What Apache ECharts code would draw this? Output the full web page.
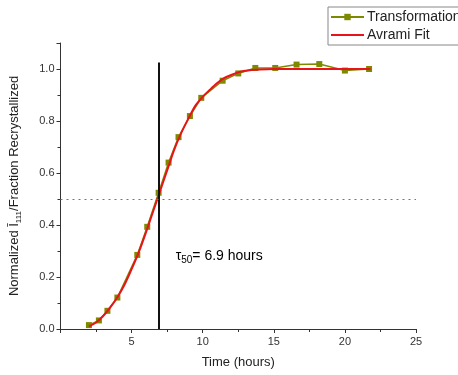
<!DOCTYPE html>
<html>
<head>
<meta charset="utf-8">
<script src="https://cdn.jsdelivr.net/npm/echarts@6/dist/echarts.min.js"></script>
<style>
  html, body { margin: 0; padding: 0; background: #fff; }
  #chart { width: 458px; height: 375px; }
</style>
</head>
<body>
<div id="chart"></div>
<script>
// Measured transformation (time in hours, fraction recrystallized)
const timeHours = [2.0, 2.7, 3.3, 4.0, 5.4, 6.1, 6.9, 7.6, 8.3, 9.1, 9.9, 11.4, 12.5, 13.7, 15.1, 16.6, 18.2, 20.0, 21.7];
const fraction  = [0.015, 0.033, 0.070, 0.121, 0.285, 0.393, 0.524, 0.640, 0.738, 0.819, 0.889, 0.955, 0.983, 1.004, 1.004, 1.017, 1.019, 0.994, 1.0];

// Avrami fit curve, sampled
const fitTime = [2.0, 2.5, 3.0, 3.5, 4.0, 4.5, 5.0, 5.5, 6.0, 6.5, 7.0, 7.5, 8.0, 8.5, 9.0, 9.5, 10.0, 10.5, 11.0, 11.5, 12.0, 12.5, 13.0, 14.0, 15.0, 17.0, 20.0, 21.8];
const fitFrac = [0.010, 0.025, 0.050, 0.083, 0.122, 0.170, 0.230, 0.295, 0.370, 0.450, 0.530, 0.610, 0.690, 0.755, 0.810, 0.860, 0.893, 0.920, 0.945, 0.965, 0.977, 0.987, 0.993, 0.998, 1.0, 1.0, 1.0, 1.0];

const tau50 = 6.9;       // hours
const halfLevel = 0.5;

const xTicks = { min: 0, max: 25, interval: 5 };
const yTicks = { min: 0, max: 1.1, interval: 0.2 };

const FONT = 'Liberation Sans, Arial, sans-serif';
const axisColor = '#333';

const chart = echarts.init(document.getElementById('chart'), null, { renderer: 'canvas' });

chart.setOption({
  animation: false,
  backgroundColor: '#fff',
  textStyle: { fontFamily: FONT },
  grid: { left: 58, right: 42, top: 43, bottom: 46 },
  legend: {
    orient: 'vertical',
    left: 328,
    top: 7,
    itemWidth: 33,
    itemHeight: 8,
    itemGap: 4,
    padding: [3, 4, 3, 2],
    borderColor: '#888',
    borderWidth: 1,
    textStyle: { fontFamily: FONT, fontSize: 14, color: '#222', padding: [0, 0, 0, -2] },
    data: [
      { name: 'Transformation' },
      { name: 'Avrami Fit', itemStyle: { opacity: 0 } }
    ]
  },
  xAxis: {
    type: 'value',
    min: xTicks.min, max: xTicks.max, interval: xTicks.interval,
    name: 'Time (hours)',
    nameLocation: 'middle',
    nameGap: 27,
    nameTextStyle: { fontFamily: FONT, fontSize: 13, color: '#222' },
    axisLine: { lineStyle: { color: axisColor, width: 1 } },
    axisTick: { length: 4, lineStyle: { color: axisColor } },
    minorTick: { show: true, splitNumber: 2, length: 3, lineStyle: { color: axisColor } },
    axisLabel: { showMinLabel: false, fontFamily: FONT, fontSize: 11, color: '#333', margin: 7 },
    splitLine: { show: false }
  },
  yAxis: {
    type: 'value',
    min: yTicks.min, max: yTicks.max, interval: yTicks.interval,
    name: '{n|Normalized }{i|Ī}{s|111}{n|/Fraction Recrystallized}',
    nameLocation: 'middle',
    nameGap: 38,
    nameTextStyle: {
      fontFamily: FONT, fontSize: 13, color: '#222',
      rich: {
        n: { fontFamily: FONT, fontSize: 13, color: '#222' },
        i: { fontFamily: FONT, fontSize: 13, color: '#222' },
        s: { fontFamily: FONT, fontSize: 8, color: '#222', padding: [8, 0, 0, 0] }
      }
    },
    axisLine: { show: true, lineStyle: { color: axisColor, width: 1 } },
    axisTick: { show: true, length: 4, lineStyle: { color: axisColor } },
    minorTick: { show: true, splitNumber: 2, length: 3, lineStyle: { color: axisColor } },
    axisLabel: {
      fontFamily: FONT, fontSize: 11, color: '#333', margin: 6,
      showMaxLabel: false,
      formatter: v => v.toFixed(1)
    },
    splitLine: { show: false }
  },
  series: [
    {
      name: 'Transformation',
      type: 'line',
      data: timeHours.map((t, i) => [t, fraction[i]]),
      symbol: 'rect',
      symbolSize: 6,
      lineStyle: { color: '#7d8a00', width: 1.5 },
      itemStyle: { color: '#7d8a00' },
      z: 2,
      markLine: {
        silent: true,
        symbol: 'none',
        label: { show: false },
        data: [
          [
            { coord: [tau50, 0], lineStyle: { color: '#111', width: 2, type: 'solid' } },
            { coord: [tau50, 1.025] }
          ],
          { yAxis: halfLevel, lineStyle: { color: '#777', width: 1, type: [2, 4] } }
        ]
      }
    },
    {
      name: 'Avrami Fit',
      type: 'line',
      data: fitTime.map((t, i) => [t, fitFrac[i]]),
      smooth: 0.3,
      showSymbol: false,
      symbol: 'none',
      lineStyle: { color: '#e8141a', width: 2 },
      itemStyle: { color: '#e8141a' },
      z: 3
    }
  ]
});

// τ50 annotation, anchored in data coordinates
const anchor = chart.convertToPixel({ gridIndex: 0 }, [8.1, 0.28]);
chart.setOption({
  graphic: [{
    type: 'text',
    x: anchor[0],
    y: anchor[1],
    style: {
      text: '{t|τ}{s|50}{t|= 6.9 hours}',
      fontFamily: FONT,
      verticalAlign: 'middle',
      rich: {
        t: { fontFamily: FONT, fontSize: 14, color: '#222' },
        s: { fontFamily: FONT, fontSize: 10, color: '#222', padding: [8, 0, 0, 0] }
      }
    }
  }]
});
</script>
</body>
</html>
